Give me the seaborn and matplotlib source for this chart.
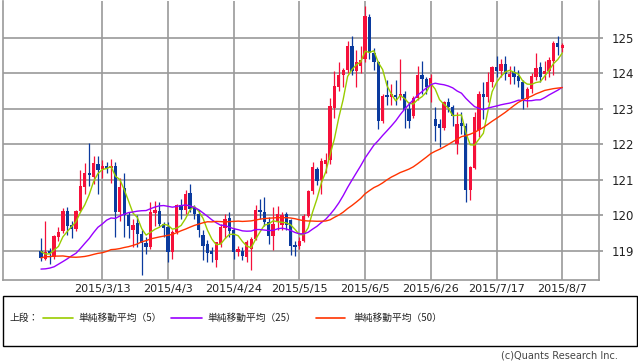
import numpy as np
import pandas as pd
import matplotlib
matplotlib.use("Agg")
import matplotlib.pyplot as plt
import seaborn as sns
from matplotlib.patches import Rectangle
from matplotlib.lines import Line2D

# closes before the visible window (only feed the moving averages)
prior_closes = [117.3, 118.8, 118.7, 119.5, 119.9, 120.6, 120.4, 120.3, 120.4, 120.5, 119.9, 119.8,
                119.8, 120.5, 119.5, 118.9, 119.6, 119.8, 118.5, 118.5, 118.0, 117.4, 116.2, 117.5,
                117.6, 118.8, 118.4, 118.5, 117.7, 118.3, 117.8, 117.5, 118.3, 117.5,
                117.6, 117.7, 117.3, 117.5, 119.1, 118.6, 119.9, 120.4, 119.1, 118.7, 118.6, 119.3,
                118.9, 118.9, 119.0]

opens = [119.01, 118.78, 119.00, 118.82, 119.40, 119.55, 120.13, 119.74, 119.62, 120.13,
         120.80, 121.18, 121.08, 121.44, 121.30, 121.40, 121.33, 121.40, 120.10, 120.78,
         120.00, 119.60, 119.78, 119.48, 119.22, 119.10, 120.06, 120.12, 119.76, 119.67,
         118.97, 119.53, 120.28, 120.15, 120.62, 120.20, 120.05, 119.45, 119.18, 119.00,
         118.75, 119.20, 119.65, 119.92, 119.60, 118.97, 119.00, 118.84, 119.05, 119.33,
         120.15, 120.10, 119.80, 119.43, 119.80, 119.73, 120.03, 119.88, 119.16, 119.15,
         119.29, 119.99, 120.69, 121.30, 120.99, 121.43, 121.55, 123.03, 123.60, 123.95,
         124.10, 124.76, 124.06, 124.20, 124.40, 125.58, 124.58, 124.30, 122.66, 123.38,
         123.32, 123.38, 123.32, 123.42, 123.00, 122.80, 123.30, 123.95, 123.83, 123.64,
         122.71, 122.57, 122.46, 123.18, 123.04, 122.00, 122.59, 122.52, 120.70, 121.33,
         122.40, 123.41, 123.32, 123.74, 124.16, 124.07, 124.25, 123.88, 124.02, 123.93,
         123.74, 123.27, 123.55, 123.90, 124.16, 123.97, 124.07, 124.35, 124.86, 124.72]
highs = [119.36, 119.85, 119.08, 119.45, 119.66, 120.20, 120.24, 119.85, 120.15, 121.27,
         121.46, 122.03, 121.67, 121.67, 121.55, 121.50, 121.58, 121.50, 121.05, 121.20,
         120.10, 119.90, 120.00, 119.60, 119.40, 120.37, 120.39, 120.38, 119.80, 119.80,
         119.58, 120.33, 120.45, 120.72, 120.87, 120.30, 120.15, 119.60, 119.30, 119.10,
         119.25, 119.75, 120.05, 120.10, 119.65, 119.15, 119.12, 119.30, 119.38, 120.30,
         120.46, 120.52, 119.95, 120.22, 120.25, 120.10, 120.10, 119.90, 119.28, 119.40,
         120.05, 120.72, 121.50, 121.35, 121.60, 121.75, 123.30, 124.06, 124.30, 124.15,
         124.90, 125.05, 124.65, 124.75, 125.89, 125.66, 124.70, 124.35, 123.40, 123.80,
         123.70, 123.80, 124.40, 123.50, 123.20, 123.35, 124.20, 124.35, 123.90, 123.97,
         123.04, 122.70, 123.22, 123.30, 123.10, 122.90, 122.90, 122.60, 121.40, 122.90,
         123.50, 123.74, 124.02, 124.20, 124.49, 124.40, 124.49, 124.20, 124.20, 124.08,
         123.80, 123.60, 124.00, 124.58, 124.30, 124.35, 124.45, 124.90, 125.05, 124.85]
lows = [118.71, 118.73, 118.64, 118.78, 119.29, 119.50, 119.46, 119.36, 119.57, 120.08,
        120.60, 120.83, 120.88, 120.60, 121.05, 121.20, 120.90, 119.38, 119.85, 119.38,
        119.35, 119.10, 119.10, 118.32, 118.90, 119.05, 119.70, 119.70, 119.40, 118.68,
        118.78, 119.48, 119.90, 120.05, 120.10, 119.90, 119.40, 118.75, 118.70, 118.70,
        118.54, 119.10, 119.35, 119.40, 118.77, 118.85, 118.73, 118.70, 118.45, 119.30,
        119.90, 119.70, 119.20, 119.03, 119.60, 119.60, 119.60, 118.87, 118.86, 119.05,
        119.25, 119.95, 120.60, 120.85, 120.60, 121.20, 121.45, 122.75, 123.50, 123.60,
        124.00, 123.95, 123.60, 124.00, 124.30, 124.40, 124.10, 122.42, 122.60, 123.10,
        123.10, 123.10, 123.25, 122.47, 122.45, 122.75, 123.25, 123.40, 123.40, 123.20,
        122.10, 121.92, 122.40, 122.90, 122.50, 121.73, 122.30, 120.37, 120.44, 121.30,
        122.20, 122.71, 123.20, 123.60, 123.90, 123.90, 123.80, 123.70, 123.70, 123.60,
        122.99, 123.04, 123.45, 123.80, 123.75, 123.80, 123.90, 123.95, 124.50, 124.60]
closes = [118.79, 118.96, 118.93, 119.43, 119.52, 120.13, 119.71, 119.62, 120.13, 120.83,
          121.18, 121.13, 121.46, 121.27, 121.40, 121.33, 121.40, 120.10, 120.80, 120.00,
          119.70, 119.72, 119.48, 119.22, 119.10, 120.09, 120.14, 119.76, 119.65, 118.97,
          119.53, 120.28, 120.15, 120.60, 120.18, 120.05, 119.60, 119.15, 118.95, 118.92,
          119.25, 119.68, 119.90, 119.55, 118.97, 119.04, 118.85, 119.25, 119.33, 120.15,
          120.08, 119.80, 119.43, 119.76, 120.03, 120.00, 119.72, 119.15, 119.12, 119.29,
          119.99, 120.69, 121.35, 120.97, 121.54, 121.55, 123.08, 123.64, 123.95, 124.10,
          124.76, 124.06, 124.30, 124.36, 125.61, 124.58, 124.30, 122.66, 123.36, 123.34,
          123.40, 123.33, 123.42, 122.95, 122.66, 123.30, 123.95, 123.83, 123.60, 123.86,
          122.52, 122.46, 123.18, 123.06, 122.80, 122.57, 122.50, 120.70, 121.35, 122.76,
          123.41, 123.32, 123.74, 124.16, 124.05, 124.25, 123.97, 123.97, 123.88, 123.79,
          123.27, 123.55, 123.93, 124.14, 123.90, 124.07, 124.36, 124.86, 124.74, 124.79]

tick_labels = ['2015/3/13', '2015/4/3', '2015/4/24', '2015/5/15',
               '2015/6/5', '2015/6/26', '2015/7/17', '2015/8/7']
ma_windows = [5, 25, 50]
ma_names = ['単純移動平均（5）', '単純移動平均（25）', '単純移動平均（50）']
ma_colors = ['#99CC00', '#9900FF', '#FF3300']

dates = pd.bdate_range('2015-02-23', '2015-08-07')
df = pd.DataFrame({'date': dates, 'open': opens, 'high': highs,
                   'low': lows, 'close': closes})
df['x'] = np.arange(len(df))
all_close = pd.Series(prior_closes + closes)
for w in ma_windows:
    df[f'ma{w}'] = all_close.rolling(w).mean().iloc[len(prior_closes):].values

sns.set_theme(style='white')
plt.rcParams['font.family'] = ['DejaVu Sans']
jp = ['Noto Sans CJK JP', 'DejaVu Sans']

W, H = 638, 362
fig = plt.figure(figsize=(W / 100, H / 100), dpi=100)
ax = fig.add_axes([3 / W, 82 / H, 596 / W, 279 / H])

up = df['close'] >= df['open']
red, blue = '#F5103A', '#0A3A9E'
cols = np.where(up, red, blue)
ax.vlines(df['x'], df['low'], df['high'], colors=cols, lw=0.9, zorder=3)
body = (df['close'] - df['open']).abs().clip(lower=0.03)
ax.bar(df['x'], body, bottom=df[['open', 'close']].min(axis=1), width=0.75,
       color=cols, linewidth=0, zorder=4)

for w, c in zip(ma_windows, ma_colors):
    sns.lineplot(data=df, x='x', y=f'ma{w}', color=c, lw=1.0, ax=ax, zorder=5)

ax.set_xlim(-8.67, 127.4)
ax.set_ylim(118.18, 126.03)
ax.set_yticks(range(119, 126))
ax.yaxis.tick_right()
lab = [d.strftime('%Y/') + f'{d.month}/{d.day}' for d in df['date']]
tick_pos = [lab.index(t) for t in tick_labels]
ax.set_xticks(tick_pos)
ax.set_xticklabels(tick_labels)
ax.tick_params(axis='x', length=0, pad=3, labelsize=8, labelcolor='#222222')
ax.tick_params(axis='y', length=3, color='#999999', pad=6, labelsize=8.5,
               labelcolor='#222222')
ax.set_xlabel('')
ax.set_ylabel('')
ax.grid(True, color='#9a9a9a', lw=1.2)
ax.set_axisbelow(True)
for s in ax.spines.values():
    s.set_color('#9a9a9a')
    s.set_linewidth(1.2)
ax.spines['top'].set_visible(False)


def fy(y):
    return 1 - y / H


fig.patches.append(Rectangle((3 / W, fy(346)), 634 / W, 50 / H, transform=fig.transFigure,
                             fill=False, ec='black', lw=1.0))
fig.text(10 / W, fy(318), '上段：', family=jp, fontsize=7, va='center', color='#222222')
for (x0, x1, xt), name, c in zip([(43, 73, 78), (171, 202, 207), (316, 345, 353)],
                                 ma_names, ma_colors):
    fig.lines.append(Line2D([x0 / W, x1 / W], [fy(318), fy(318)], transform=fig.transFigure,
                            color=c, lw=1.2))
    fig.text(xt / W, fy(318), name, family=jp, fontsize=7, va='center', color='#222222')
fig.text(618 / W, fy(356), '(c)Quants Research Inc.', fontsize=7, ha='right', va='center',
         color='#444444')

fig.savefig('out.png', dpi=100)
